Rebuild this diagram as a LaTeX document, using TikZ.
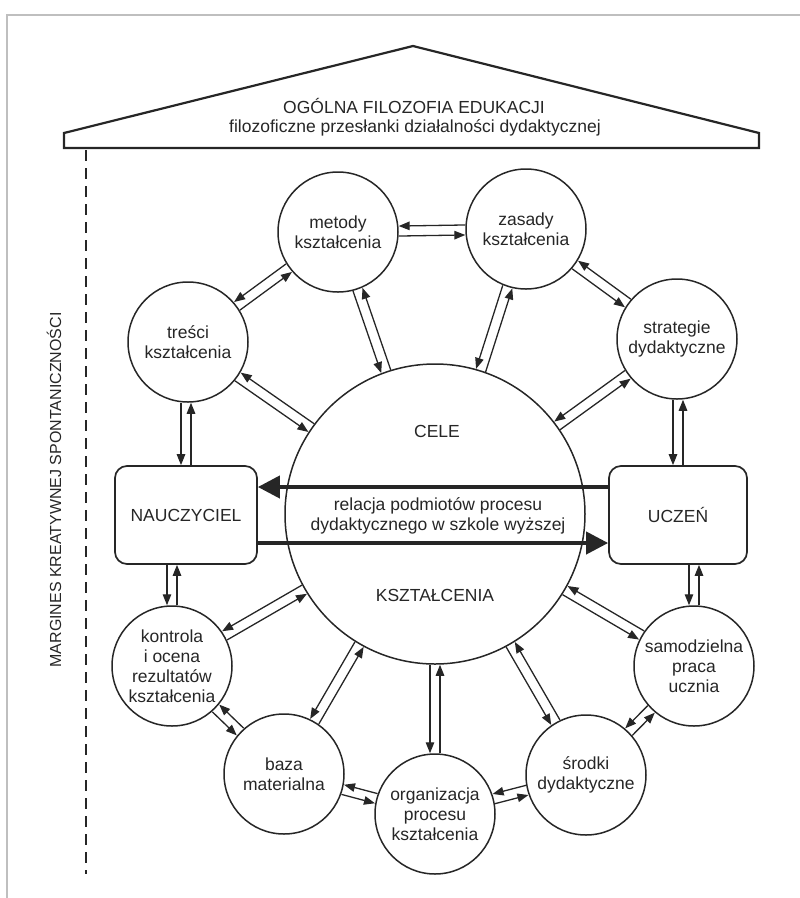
\documentclass[tikz,border=0pt]{standalone}
\usepackage{fontspec}
\setmainfont{Liberation Sans}
\usetikzlibrary{arrows.meta,calc}

% two thin arrows side by side, one each way (each keeps to its right)
\newcommand{\twoway}[2]{%
  \draw[link,transform canvas={shift={($(#1)!5pt!-90:(#2)-(#1)$)}}] (#1) -- (#2);
  \draw[link,transform canvas={shift={($(#2)!5pt!-90:(#1)-(#2)$)}}] (#2) -- (#1);
}
% the same for an upright pair, at the x of node #3
\newcommand{\updown}[3]{%
  \draw[link] ($(#3 |- #1.south)+(-5pt,0)$) -- ($(#3 |- #2.north)+(-5pt,0)$);
  \draw[link] ($(#3 |- #2.north)+(5pt,0)$) -- ($(#3 |- #1.south)+(5pt,0)$);
}

\begin{document}
\begin{tikzpicture}[x=1pt,y=-1pt,
  ink/.style={black!85},
  lbl/.style={text=black!85,font=\fontsize{17.5}{20}\selectfont,align=center},
  topic/.style={circle,draw=black!85,line width=1.5pt,minimum size=120pt,inner sep=0pt,lbl},
  person/.style={draw=black!85,line width=1.7pt,rounded corners=12pt,minimum height=98pt,inner sep=0pt,lbl},
  link/.style={draw=black!85,line width=1.3pt,-{Triangle[length=11pt,width=8.5pt]}},
  relation/.style={draw=black!85,line width=4pt,-{Triangle[length=22pt,width=22pt]}}]

  % Fix the page and draw the frame
  \useasboundingbox (0,0) rectangle (800,898);
  \draw[black!25,line width=1.5pt] (7,898) -- (7,15) -- (800,15);

  % Draw the roof
  \draw[ink,line width=2.2pt] (64,148) -- (64,133) -- (413,46) -- (759,133) -- (759,148) -- cycle;
  \node[lbl] (philo) at (414,106) {OGÓLNA FILOZOFIA EDUKACJI};
  \node[lbl] (premise) at (415,128) {filozoficzne przesłanki działalności dydaktycznej};

  % Draw the margin
  \draw[ink,line width=1.4pt,dash pattern=on 11pt off 7pt] (86,150) -- (86,874);
  \node[lbl,rotate=90,font=\fontsize{16}{19}\selectfont] (margin) at (54,490) {MARGINES KREATYWNEJ SPONTANICZNOŚCI};

  % Draw the upper circles
  \node[topic] (met) at (338,232) {metody\\kształcenia};
  \node[topic] (zas) at (526,229) {zasady\\kształcenia};
  \node[topic] (tre) at (188,342) {treści\\kształcenia};
  \node[topic] (str) at (677,339) {strategie\\dydaktyczne};

  % Draw the big circle
  \node[topic,minimum size=300pt] (cel) at (435,514) {};
  \node[lbl] (goal) at (437,431) {CELE};
  \node[lbl] (rel) at (438,516) {relacja podmiotów procesu\\dydaktycznego w szkole wyższej};
  \node[lbl] (educ) at (435,595) {KSZTAŁCENIA};

  % Draw the two persons
  \node[person,minimum width=142pt] (nau) at (186,515) {NAUCZYCIEL};
  \node[person,minimum width=138pt] (ucz) at (678,515) {UCZEŃ};

  % Draw the lower circles
  \node[topic] (kon) at (172,666) {kontrola\\i ocena\\rezultatów\\kształcenia};
  \node[topic] (sam) at (694,666) {samodzielna\\praca\\ucznia};
  \node[topic] (baz) at (284,774) {baza\\materialna};
  \node[topic] (org) at (435,814) {organizacja\\procesu\\kształcenia};
  \node[topic] (sro) at (586,775) {środki\\dydaktyczne};

  % Draw the relation between the persons
  \draw[relation] ($(ucz.west)+(0,-28)$) -- ($(nau.east)+(0,-28)$);
  \draw[relation] ($(nau.east)+(0,28)$) -- ($(ucz.west)+(0,28)$);

  % Draw the pairs of arrows
  \twoway{met}{zas}
  \twoway{tre}{met}
  \twoway{zas}{str}
  \twoway{met}{cel}
  \twoway{zas}{cel}
  \twoway{tre}{cel}
  \twoway{str}{cel}
  \twoway{kon}{cel}
  \twoway{sam}{cel}
  \twoway{baz}{cel}
  \twoway{sro}{cel}
  \twoway{kon}{baz}
  \twoway{baz}{org}
  \twoway{org}{sro}
  \twoway{sro}{sam}
  \updown{tre}{nau}{nau}
  \updown{str}{ucz}{ucz}
  \updown{nau}{kon}{kon}
  \updown{ucz}{sam}{sam}
  \updown{cel}{org}{org}

\end{tikzpicture}
\end{document}
